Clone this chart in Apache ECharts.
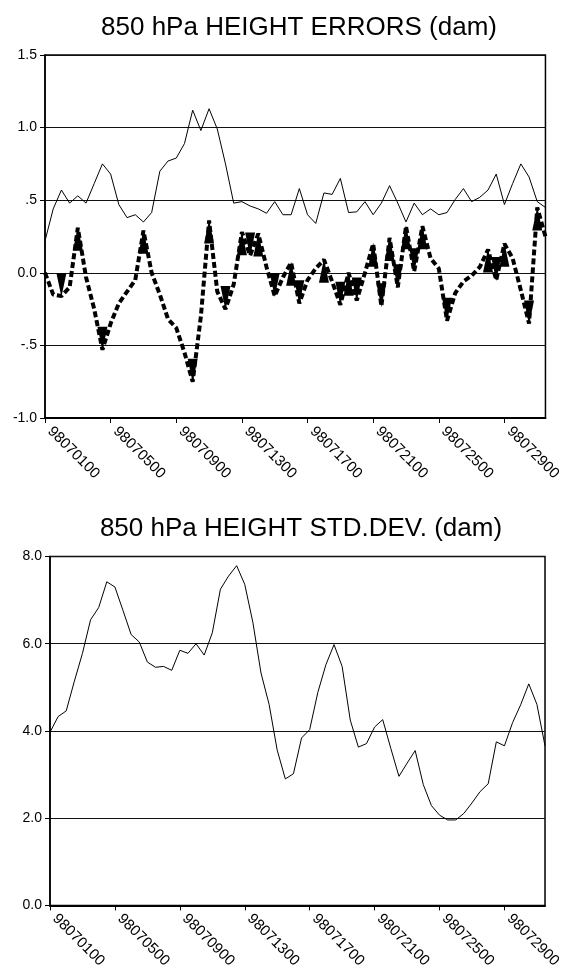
<!DOCTYPE html>
<html>
<head>
<meta charset="utf-8">
<script src="https://cdn.jsdelivr.net/npm/echarts@6/dist/echarts.min.js"></script>
<style>
html,body{margin:0;padding:0;background:#fff;}
#chart{width:564px;height:971px;}
</style>
</head>
<body>
<div id="chart"></div>
<script>
// ---- data ----
const categories = [
 '98070100','98070112','98070200','98070212','98070300','98070312','98070400','98070412',
 '98070500','98070512','98070600','98070612','98070700','98070712','98070800','98070812',
 '98070900','98070912','98071000','98071012','98071100','98071112','98071200','98071212',
 '98071300','98071312','98071400','98071412','98071500','98071512','98071600','98071612',
 '98071700','98071712','98071800','98071812','98071900','98071912','98072000','98072012',
 '98072100','98072112','98072200','98072212','98072300','98072312','98072400','98072412',
 '98072500','98072512','98072600','98072612','98072700','98072712','98072800','98072812',
 '98072900','98072912','98073000','98073012','98073100','98073112'
];
const rmsErrors = [0.22,0.44,0.57,0.48,0.53,0.48,0.615,0.75,0.68,0.47,0.38,0.40,0.35,0.415,0.70,0.77,
 0.79,0.89,1.12,0.98,1.13,0.99,0.75,0.48,0.49,0.46,0.44,0.41,0.49,0.40,0.40,0.58,
 0.40,0.34,0.55,0.54,0.65,0.415,0.42,0.49,0.40,0.48,0.60,0.48,0.35,0.48,0.40,0.44,
 0.40,0.415,0.505,0.58,0.49,0.52,0.57,0.68,0.47,0.615,0.75,0.66,0.49,0.45];
const biasErrors = [0.0,-0.15,-0.16,-0.10,0.31,-0.03,-0.25,-0.53,-0.35,-0.21,-0.13,-0.05,0.29,0.0,-0.15,-0.32,
 -0.38,-0.55,-0.75,-0.30,0.36,-0.13,-0.25,-0.08,0.28,0.12,0.27,0.04,-0.16,-0.03,0.07,-0.21,
 -0.05,0.03,0.09,-0.06,-0.22,0.0,-0.19,0.0,0.20,-0.23,0.24,-0.10,0.32,0.01,0.32,0.10,
 0.03,-0.33,-0.14,-0.06,-0.02,0.04,0.16,-0.05,0.20,0.10,-0.12,-0.35,0.45,0.25];
const stdDev = [3.97,4.33,4.46,5.14,5.78,6.55,6.83,7.42,7.30,6.76,6.21,6.04,5.58,5.46,5.48,5.39,
 5.85,5.78,6.0,5.74,6.25,7.25,7.55,7.79,7.36,6.49,5.33,4.61,3.56,2.90,3.02,3.84,
 4.03,4.88,5.52,5.98,5.48,4.25,3.63,3.71,4.09,4.26,3.60,2.96,3.26,3.55,2.77,2.29,
 2.07,1.96,1.96,2.11,2.35,2.61,2.79,3.75,3.66,4.19,4.60,5.08,4.61,3.66];
const topTickLabels = ['-1.0','-.5','0.0','.5','1.0','1.5'];
const bottomTickLabels = ['0.0','2.0','4.0','6.0','8.0'];
const titles = ['850 hPa HEIGHT ERRORS (dam)','850 hPa HEIGHT STD.DEV. (dam)'];

// ---- chart ----
const FONT = '"Liberation Sans", Arial, sans-serif';
const chart = echarts.init(document.getElementById('chart'), null, {renderer:'canvas'});

// arrow heads at local extrema of the bias line
const biasData = biasErrors.map(function(v,i){
  const p = biasErrors[i-1], n = biasErrors[i+1];
  if (p === undefined || n === undefined) return {value:v, symbol:'none'};
  if (v > p && v >= n) return {value:v, symbol:'triangle', symbolRotate:0, symbolOffset:[0,11]};
  if (v < p && v <= n) return {value:v, symbol:'triangle', symbolRotate:180, symbolOffset:[0,-11]};
  return {value:v, symbol:'none'};
});

function xAxisCfg(gi){
  return {
    type:'category', gridIndex:gi, data:categories, boundaryGap:false,
    axisLine:{show:true, onZero:false, lineStyle:{color:'#000', width:2}},
    axisTick:{show:true, interval:7, length:5, lineStyle:{color:'#000', width:1}},
    axisLabel:{interval:7, rotate:-45, color:'#000', fontFamily:FONT, fontSize:15, margin:6,
               padding:[0,0,0,7]},
    splitLine:{show:false}
  };
}
function yAxisCfg(gi, min, max, interval, labels){
  return {
    type:'value', gridIndex:gi, min:min, max:max, interval:interval,
    axisLine:{show:true, lineStyle:{color:'#000', width:1.5}},
    axisTick:{show:true, length:5, lineStyle:{color:'#000'}},
    axisLabel:{color:'#000', fontFamily:FONT, fontSize:14, margin:8,
      formatter:function(v){ return labels[Math.round((v-min)/interval)]; }},
    splitLine:{show:true, lineStyle:{color:'#111', width:1}}
  };
}

chart.setOption({
  animation:false,
  backgroundColor:'#fff',
  graphic:[
    {type:'text', x:299, y:15, style:{text:titles[0], textAlign:'center', textVerticalAlign:'top', font:'26px '+FONT, fill:'#000'}},
    {type:'text', x:301, y:516, style:{text:titles[1], textAlign:'center', textVerticalAlign:'top', font:'26px '+FONT, fill:'#000'}}
  ],
  grid:[
    {left:45, right:13, top:55, height:363, show:true, borderColor:'#000', borderWidth:1.5, containLabel:false},
    {left:50, right:11, top:556.5, height:354.5, show:true, borderColor:'#000', borderWidth:1.5, containLabel:false}
  ],
  xAxis:[xAxisCfg(0), xAxisCfg(1)],
  yAxis:[yAxisCfg(0,-1,1.5,0.5,topTickLabels), yAxisCfg(1,0,8,2,bottomTickLabels)],
  series:[
    {type:'line', xAxisIndex:0, yAxisIndex:0, data:rmsErrors, showSymbol:false,
     lineStyle:{color:'#000', width:1}, z:3},
    {type:'line', xAxisIndex:0, yAxisIndex:0, data:biasData, showSymbol:true, showAllSymbol:true,
     symbolSize:[10,24], itemStyle:{color:'#000'},
     lineStyle:{color:'#000', width:4, type:[6,3]}, z:4},
    {type:'line', xAxisIndex:1, yAxisIndex:1, data:stdDev, showSymbol:false,
     lineStyle:{color:'#000', width:1}, z:3}
  ]
});
</script>
</body>
</html>
